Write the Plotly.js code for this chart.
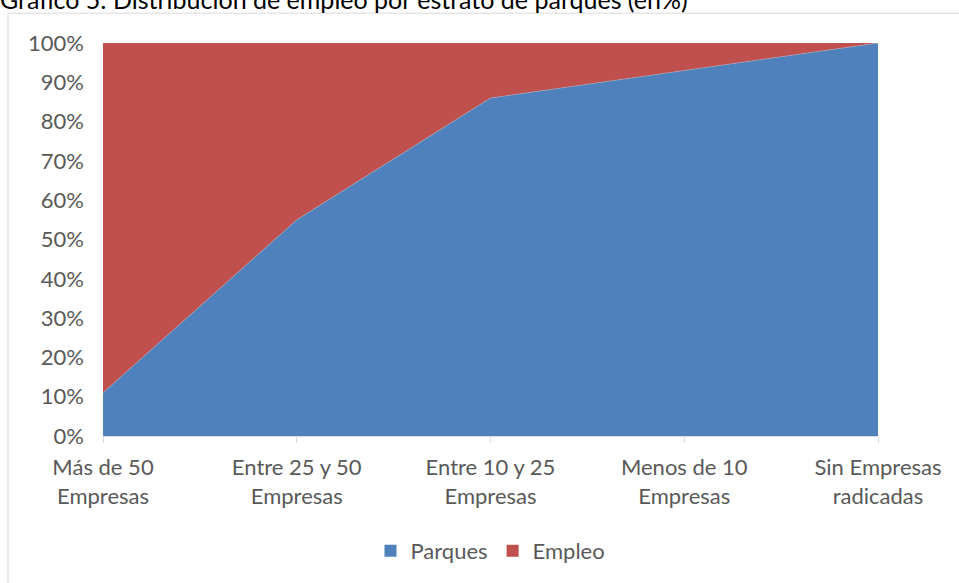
<!DOCTYPE html>
<html>
<head>
<meta charset="utf-8">
<script src="https://cdn.plot.ly/plotly-3.0.1.min.js"></script>
<style>
  html, body { margin: 0; padding: 0; background: #fff; }
  #chart { width: 959px; height: 583px; }
</style>
</head>
<body>
<div id="chart"></div>
<script>
var categorias = ["Más de 50<br>Empresas", "Entre 25 y 50<br>Empresas", "Entre 10 y 25<br>Empresas", "Menos de 10<br>Empresas", "Sin Empresas<br>radicadas"];
var parques = [11, 55, 86, 93, 100];
var empleo = [89, 45, 14, 7, 0];
var series = ["Parques", "Empleo"];
var colores = ["#4F81BD", "#C0504D"];

var trace1 = {
    x: categorias,
    y: parques,
    name: series[0],
    type: "scatter",
    mode: "lines",
    stackgroup: "uno",
    showlegend: false,
    line: { width: 0.6, color: "#9DA9C0" },
    fillcolor: colores[0]
};

var trace2 = {
    x: categorias,
    y: empleo,
    name: series[1],
    type: "scatter",
    mode: "lines",
    stackgroup: "uno",
    showlegend: false,
    line: { width: 0, color: colores[1] },
    fillcolor: colores[1]
};

// legend-only entries so the keys are squares like in Excel
var leyenda = series.map(function (s, i) {
    return { x: [categorias[0]], y: [null], name: s, type: "bar", marker: { color: colores[i] }, hoverinfo: "skip" };
});

var data = [trace1, trace2].concat(leyenda);

var layout = {
    width: 959,
    height: 583,
    margin: { l: 103, r: 81, t: 43, b: 146 },
    paper_bgcolor: "#fff",
    plot_bgcolor: "#fff",
    font: { family: "Lato, sans-serif", size: 22, color: "#595959" },
    title: {
        text: "Gráfico 5: Distribución de empleo por estrato de parques (en%)",
        font: { family: "Lato, sans-serif", size: 25, color: "#000" },
        x: 0, xanchor: "left", xref: "container",
        y: 1.0, yanchor: "middle", yref: "container"
    },
    showlegend: true,
    legend: {
        orientation: "h",
        x: 0.5, xanchor: "center",
        y: -0.289, yanchor: "middle",
        font: { size: 22, color: "#595959" },
        traceorder: "normal",
        itemwidth: 30
    },
    xaxis: {
        type: "category",
        range: [0, 4],
        showgrid: false,
        zeroline: false,
        showline: true,
        linecolor: "#D9D9D9",
        linewidth: 1,
        ticks: "outside",
        ticklen: 6,
        tickcolor: "#D9D9D9",
        ticklabelstandoff: 6,
        tickfont: { size: 22, color: "#595959" }
    },
    yaxis: {
        range: [0, 100],
        dtick: 10,
        ticksuffix: "%",
        showgrid: false,
        zeroline: false,
        showline: false,
        ticks: "",
        ticklabelstandoff: 18,
        tickfont: { size: 22, color: "#595959" }
    },
    shapes: [{
        type: "rect",
        xref: "paper", yref: "paper",
        x0: -0.1226, x1: 1.2, y0: -0.6, y1: 1.076,
        line: { color: "#D9D9D9", width: 1 },
        layer: "below"
    }]
};

Plotly.newPlot("chart", data, layout, { displayModeBar: false, staticPlot: true });
</script>
</body>
</html>
